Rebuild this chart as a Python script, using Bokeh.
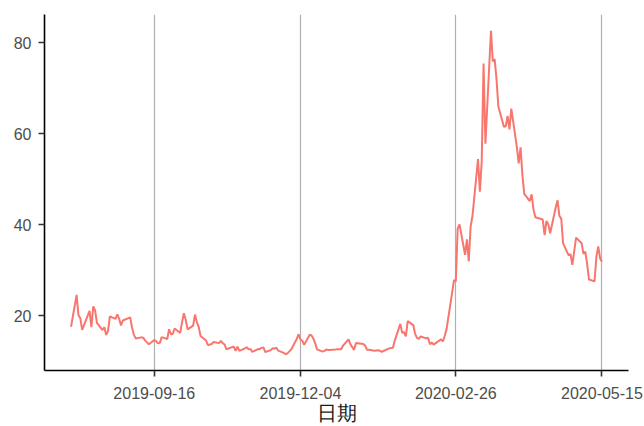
import pandas as pd
from bokeh.plotting import figure
from bokeh.models import Range1d, FixedTicker, DatetimeTickFormatter, ColumnDataSource
from bokeh.embed import file_html
from bokeh.resources import INLINE

dates = [
    "2019-08-02", "2019-08-05", "2019-08-06", "2019-08-07", "2019-08-08", "2019-08-09",
    "2019-08-12", "2019-08-13", "2019-08-14", "2019-08-15", "2019-08-16",
    "2019-08-19", "2019-08-20", "2019-08-21", "2019-08-22", "2019-08-23",
    "2019-08-26", "2019-08-27", "2019-08-28", "2019-08-29", "2019-08-30",
    "2019-09-03", "2019-09-04", "2019-09-05", "2019-09-06",
    "2019-09-09", "2019-09-10", "2019-09-11", "2019-09-12", "2019-09-13",
    "2019-09-16", "2019-09-17", "2019-09-18", "2019-09-19", "2019-09-20",
    "2019-09-23", "2019-09-24", "2019-09-25", "2019-09-26", "2019-09-27",
    "2019-09-30", "2019-10-01", "2019-10-02", "2019-10-03", "2019-10-04",
    "2019-10-07", "2019-10-08", "2019-10-09", "2019-10-10", "2019-10-11",
    "2019-10-14", "2019-10-15", "2019-10-16", "2019-10-17", "2019-10-18",
    "2019-10-21", "2019-10-22", "2019-10-23", "2019-10-24", "2019-10-25",
    "2019-10-28", "2019-10-29", "2019-10-30", "2019-10-31", "2019-11-01",
    "2019-11-04", "2019-11-05", "2019-11-06", "2019-11-07", "2019-11-08",
    "2019-11-11", "2019-11-12", "2019-11-13", "2019-11-14", "2019-11-15",
    "2019-11-18", "2019-11-19", "2019-11-20", "2019-11-21", "2019-11-22",
    "2019-11-25", "2019-11-26", "2019-11-27", "2019-11-29",
    "2019-12-02", "2019-12-03", "2019-12-04", "2019-12-05", "2019-12-06",
    "2019-12-09", "2019-12-10", "2019-12-11", "2019-12-12", "2019-12-13",
    "2019-12-16", "2019-12-17", "2019-12-18", "2019-12-19", "2019-12-20",
    "2019-12-23", "2019-12-24", "2019-12-26", "2019-12-27",
    "2019-12-30", "2019-12-31", "2020-01-02", "2020-01-03",
    "2020-01-06", "2020-01-07", "2020-01-08", "2020-01-09", "2020-01-10",
    "2020-01-13", "2020-01-14", "2020-01-15", "2020-01-16", "2020-01-17",
    "2020-01-21", "2020-01-22", "2020-01-23", "2020-01-24",
    "2020-01-27", "2020-01-28", "2020-01-29", "2020-01-30", "2020-01-31",
    "2020-02-03", "2020-02-04", "2020-02-05", "2020-02-06", "2020-02-07",
    "2020-02-10", "2020-02-11", "2020-02-12", "2020-02-13", "2020-02-14",
    "2020-02-18", "2020-02-19", "2020-02-20", "2020-02-21",
    "2020-02-24", "2020-02-25", "2020-02-26", "2020-02-27", "2020-02-28",
    "2020-03-02", "2020-03-03", "2020-03-04", "2020-03-05", "2020-03-06",
    "2020-03-09", "2020-03-10", "2020-03-11", "2020-03-12", "2020-03-13",
    "2020-03-16", "2020-03-17", "2020-03-18", "2020-03-19", "2020-03-20",
    "2020-03-23", "2020-03-24", "2020-03-25", "2020-03-26", "2020-03-27",
    "2020-03-30", "2020-03-31", "2020-04-01", "2020-04-02", "2020-04-03",
    "2020-04-06", "2020-04-07", "2020-04-08", "2020-04-09",
    "2020-04-13", "2020-04-14", "2020-04-15", "2020-04-16", "2020-04-17",
    "2020-04-20", "2020-04-21", "2020-04-22", "2020-04-23", "2020-04-24",
    "2020-04-27", "2020-04-28", "2020-04-29", "2020-04-30", "2020-05-01",
    "2020-05-04", "2020-05-05", "2020-05-06", "2020-05-07", "2020-05-08",
    "2020-05-11", "2020-05-12", "2020-05-13", "2020-05-14", "2020-05-15",
]

vix = [
    17.61, 24.59, 20.17, 19.49, 16.91, 17.97,
    21.09, 17.52, 22.10, 21.18, 18.47,
    16.88, 17.50, 15.80, 16.68, 19.87,
    19.32, 20.31, 19.35, 17.88, 18.98,
    19.66, 17.33, 15.82, 15.00,
    15.27, 15.20, 14.61, 14.22, 13.74,
    14.67, 14.44, 13.95, 14.05, 15.32,
    14.91, 17.05, 15.96, 16.07, 17.22,
    16.24, 18.56, 20.56, 19.12, 17.04,
    17.86, 20.28, 18.64, 17.57, 15.58,
    14.57, 13.54, 13.68, 13.79, 14.25,
    14.00, 14.46, 14.01, 13.71, 12.65,
    13.11, 13.20, 12.33, 13.22, 12.30,
    12.83, 13.10, 12.62, 12.73, 12.07,
    12.69, 12.68, 13.00, 13.05, 12.05,
    12.46, 12.86, 12.78, 12.98, 12.34,
    11.87, 11.54, 11.75, 12.62,
    14.91, 15.96, 14.80, 14.52, 13.62,
    15.86, 15.68, 14.99, 13.94, 12.63,
    12.14, 12.29, 12.58, 12.50, 12.51,
    12.61, 12.67, 12.65, 13.43,
    14.82, 13.78, 12.47, 14.02,
    13.85, 13.79, 13.45, 12.54, 12.56,
    12.32, 12.39, 12.42, 12.32, 12.10,
    12.85, 12.91, 12.98, 14.56,
    18.23, 16.28, 16.39, 15.49, 18.84,
    17.97, 16.05, 15.15, 14.96, 15.47,
    15.04, 15.18, 13.74, 14.15, 13.68,
    14.83, 14.38, 15.56, 17.08,
    25.03, 27.85, 27.56, 39.16, 40.11,
    33.42, 36.82, 31.99, 39.62, 41.94,
    54.46, 47.30, 53.90, 75.47, 57.83,
    82.69, 75.91, 76.45, 72.00, 66.04,
    61.59, 61.67, 63.95, 61.00, 65.54,
    57.08, 53.54, 57.06, 50.91, 46.80,
    45.24, 46.70, 43.35, 41.67,
    41.17, 37.76, 40.84, 40.11, 38.15,
    43.83, 45.41, 41.98, 41.38, 35.93,
    33.29, 33.57, 31.23, 34.15, 37.19,
    35.97, 33.61, 34.12, 31.44, 27.98,
    27.57, 33.04, 35.28, 32.61, 31.89,
]

x_tick_dates = ["2019-09-16", "2019-12-04", "2020-02-26", "2020-05-15"]
y_ticks = [20, 40, 60, 80]
x_title = "日期"

x = pd.to_datetime(dates)
src = ColumnDataSource(dict(date=x, vix=vix))

xmin, xmax = x.min(), x.max()
span = xmax - xmin
x_range = Range1d(xmin - span * 0.05, xmax + span * 0.05)
ymin, ymax = min(vix), max(vix)
yr = ymax - ymin
y_range = Range1d(ymin - 0.05 * yr, ymax + 0.05 * yr)

p = figure(width=644, height=426, x_axis_type="datetime",
           x_range=x_range, y_range=y_range,
           output_backend="svg", toolbar_location=None,
           min_border_left=44, min_border_right=16,
           min_border_top=14, min_border_bottom=56)
p.outline_line_color = None
p.background_fill_color = "white"
p.border_fill_color = "white"

p.line("date", "vix", source=src, line_color="#F8766D", line_width=2)

xt = FixedTicker(ticks=[pd.Timestamp(d).value / 1e6 for d in x_tick_dates])
p.xaxis.ticker = xt
p.xgrid.ticker = xt
fmt = "%Y-%m-%d"
p.xaxis.formatter = DatetimeTickFormatter(days=fmt, months=fmt, years=fmt, hours=fmt,
                                          minutes=fmt, seconds=fmt, milliseconds=fmt,
                                          microseconds=fmt, hourmin=fmt, minsec=fmt)
p.yaxis.ticker = FixedTicker(ticks=y_ticks)

p.xgrid.grid_line_color = "#B0B0B0"
p.xgrid.grid_line_width = 1.2
p.ygrid.grid_line_color = None

for ax in (p.xaxis[0], p.yaxis[0]):
    ax.axis_line_color = "black"
    ax.axis_line_width = 1.6
    ax.major_tick_line_color = "#333333"
    ax.major_tick_line_width = 1.6
    ax.major_tick_out = 6
    ax.major_tick_in = 0
    ax.minor_tick_out = 0
    ax.minor_tick_in = 0
    ax.major_label_text_font = "Liberation Sans"
    ax.major_label_text_font_size = "16px"
    ax.major_label_text_color = "#4D4D4D"
    ax.major_label_standoff = 7

p.xaxis.major_label_standoff = 10
p.xaxis.axis_label = x_title
p.xaxis.axis_label_text_font = "Liberation Sans"
p.xaxis.axis_label_text_font_size = "20px"
p.xaxis.axis_label_text_font_style = "normal"
p.xaxis.axis_label_text_color = "#1A1A1A"
p.xaxis.axis_label_standoff = 0

open("out.html", "w").write(file_html(p, INLINE))
